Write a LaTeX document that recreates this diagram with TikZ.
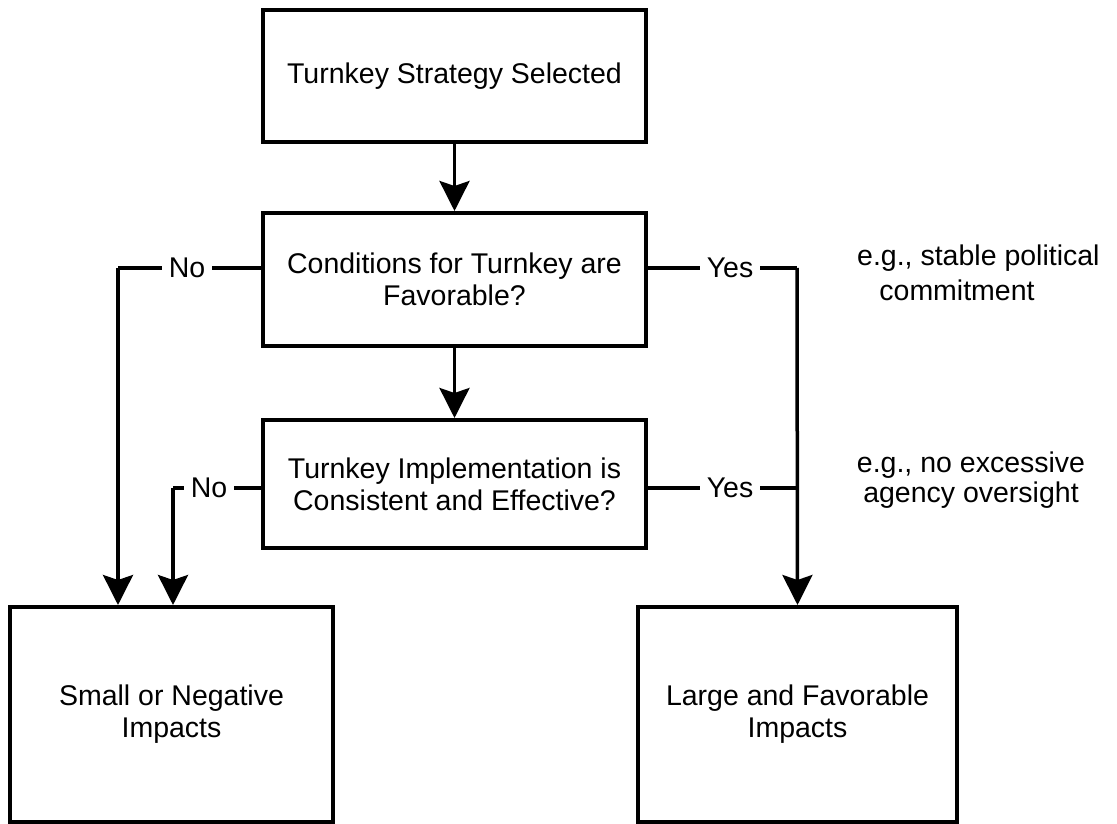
\documentclass[tikz,border=0pt]{standalone}
\usepackage{fontspec}
\setmainfont{Liberation Sans}
\usetikzlibrary{arrows.meta}
\begin{document}
\begin{tikzpicture}[x=1pt,y=-1pt,
  box/.style={draw,line width=4pt,inner sep=0pt,align=center,
    font=\fontsize{28.5}{32}\selectfont},
  lbl/.style={inner xsep=7pt,inner ysep=3pt,fill=white,font=\fontsize{28.5}{32}\selectfont},
  note/.style={inner sep=0pt,align=center,font=\fontsize{28.5}{32}\selectfont},
  link/.style={line width=3.5pt},
  flow/.style={link,-{Stealth[length=30pt,width=30pt,inset=5pt]}}]
  \useasboundingbox (0,0) rectangle (1117,824);
  \fill[white] (0,0) rectangle (1117,824);

  % decision chain
  \node[box,minimum width=383pt,minimum height=132pt] (start) at (454.5,76)
    {Turnkey Strategy Selected};
  \node[box,minimum width=383pt,minimum height=133pt] (cond) at (454.5,279.5)
    {Conditions for Turnkey are\\Favorable?};
  \node[box,minimum width=383pt,minimum height=128pt] (impl) at (454.5,484)
    {Turnkey Implementation is\\Consistent and Effective?};

  % outcomes
  \node[box,minimum width=323pt,minimum height=215pt] (neg) at (171.5,714.5)
    {Small or Negative\\Impacts};
  \node[box,minimum width=319pt,minimum height=215pt] (pos) at (797.5,714.5)
    {Large and Favorable\\Impacts};

  % side notes
  \node[note,anchor=west] (n1a) at (857,258) {e.g., stable political};
  \node[note] (n1b) at (957,290) {commitment};
  \node[note] (n2a) at (971,465) {e.g., no excessive};
  \node[note] (n2b) at (971,495) {agency oversight};

  % branch corners
  \coordinate (noA) at (118,268);
  \coordinate (noB) at (173,488);
  \coordinate (yesA) at (797,268);
  \coordinate (yesB) at (797,488);

  % main flow
  \draw[flow] (start.south) -- (cond.north);
  \draw[flow] (cond.south) -- (impl.north);

  % "No" branches
  \draw[link] (cond.west |- noA) -- (noA);
  \draw[flow] (noA) -- (noA |- neg.north);
  \node[lbl] (noAl) at (187,268) {No};
  \draw[link] (impl.west |- noB) -- (noB);
  \draw[flow] (noB) -- (noB |- neg.north);
  \node[lbl] (noBl) at (209,488) {No};

  % "Yes" branches
  \draw[link] (cond.east |- yesA) -- (yesA);
  \draw[flow] (yesA) -- (pos.north);
  \node[lbl] (yesAl) at (730,268) {Yes};
  \draw[link] (impl.east |- yesB) -- (yesB);
  \node[lbl] (yesBl) at (730,488) {Yes};
\end{tikzpicture}
\end{document}
